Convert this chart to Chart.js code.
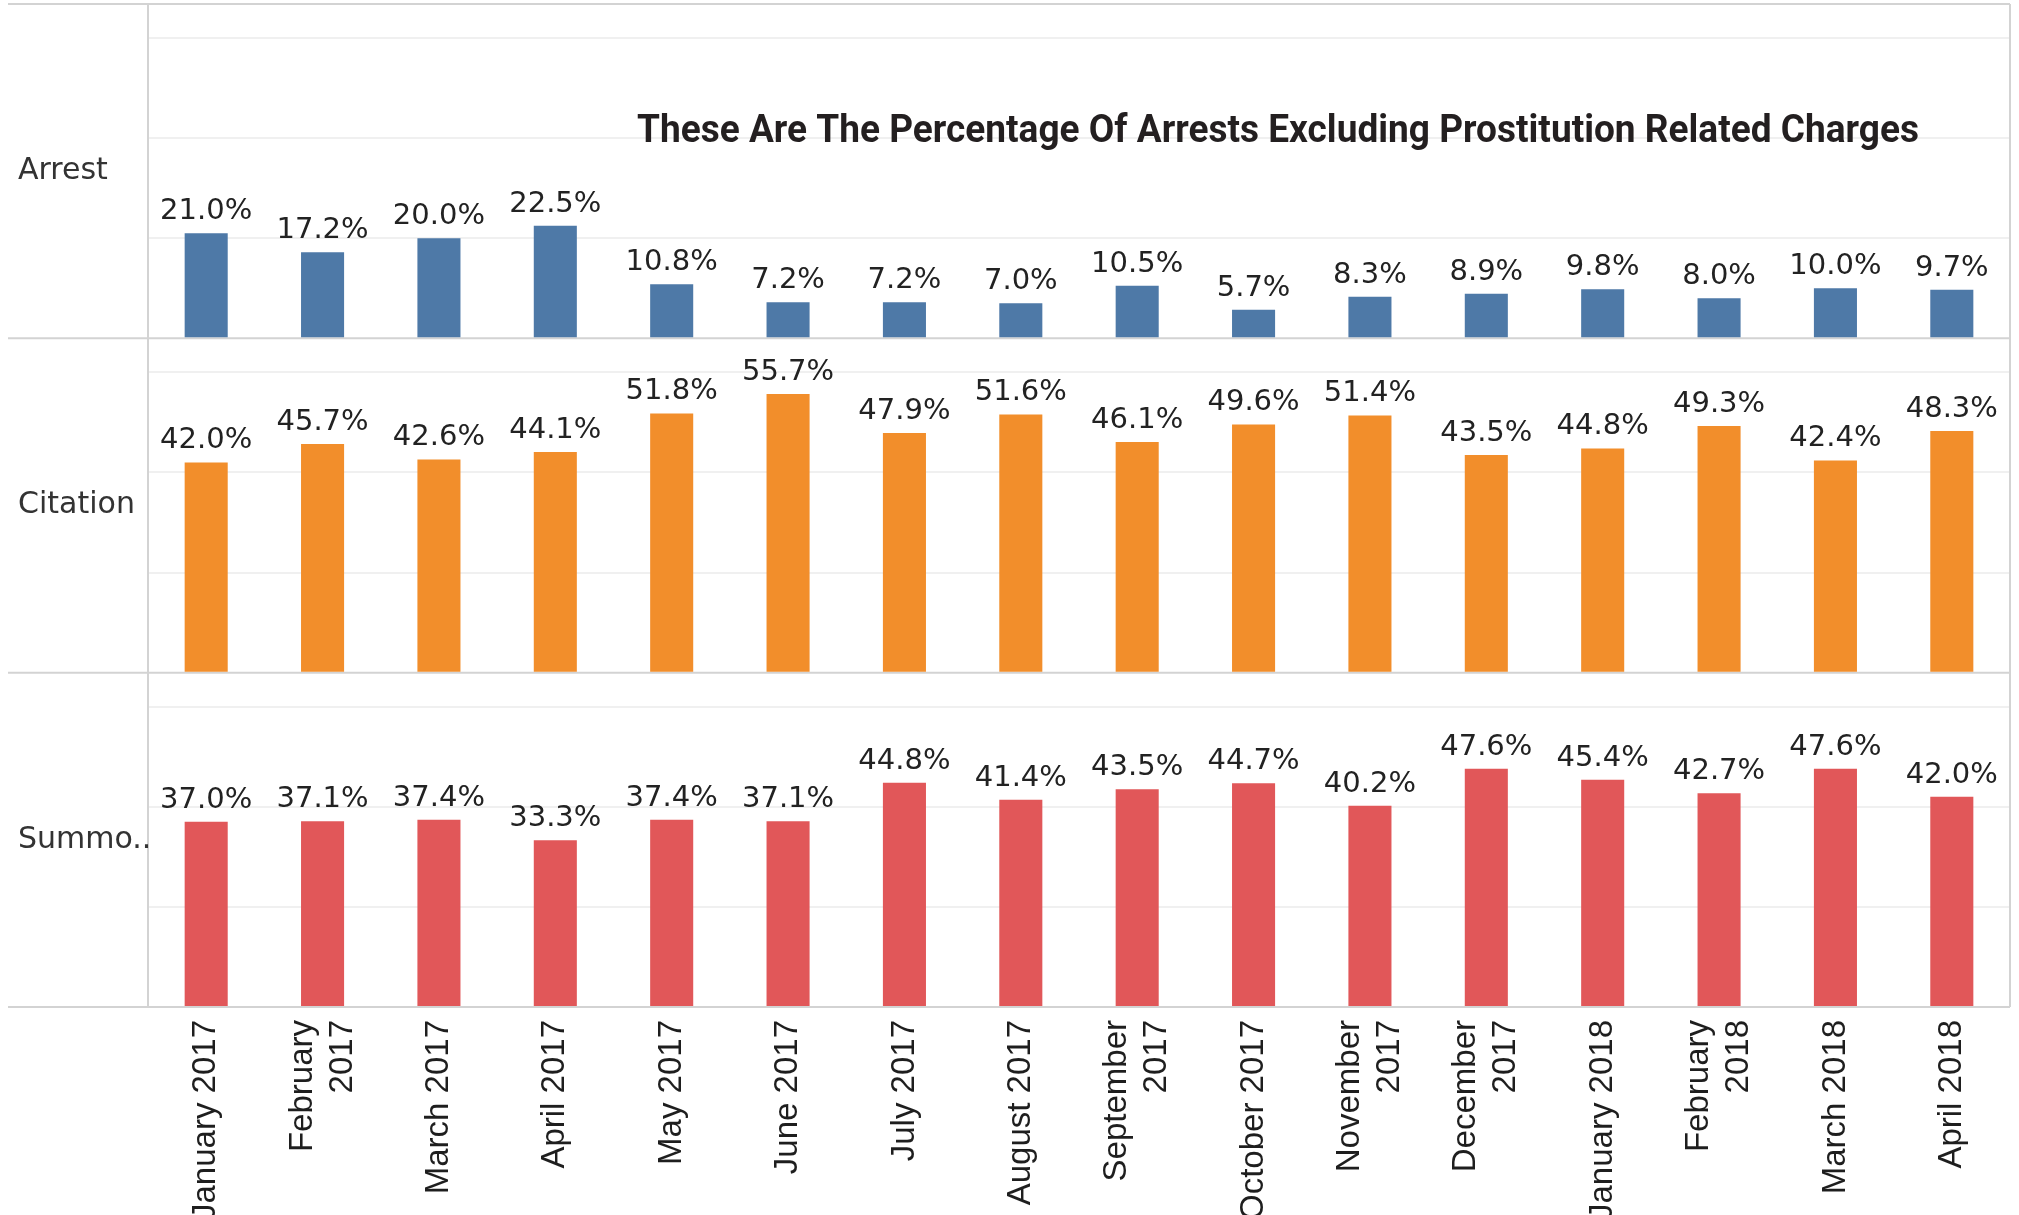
<!DOCTYPE html>
<html lang="en">
<head>
    <meta charset="UTF-8">
    <title>Arrests excluding prostitution related charges</title>
    <script src="https://cdn.jsdelivr.net/npm/chart.js"></script>
    <style>
        html, body { margin: 0; padding: 0; background: #fff; }
        .wrap { position: relative; width: 2019px; height: 1215px; }
    </style>
</head>
<body>
    <div class="wrap">
        <canvas id="myChart"></canvas>
    </div>
<script>
    const months = ['January 2017', ['February', '2017'], 'March 2017', 'April 2017', 'May 2017', 'June 2017',
        'July 2017', 'August 2017', ['September', '2017'], 'October 2017', ['November', '2017'],
        ['December', '2017'], 'January 2018', ['February', '2018'], 'March 2018', 'April 2018'];

    const arrest = [21.0, 17.2, 20.0, 22.5, 10.8, 7.2, 7.2, 7.0, 10.5, 5.7, 8.3, 8.9, 9.8, 8.0, 10.0, 9.7];
    const citation = [42.0, 45.7, 42.6, 44.1, 51.8, 55.7, 47.9, 51.6, 46.1, 49.6, 51.4, 43.5, 44.8, 49.3, 42.4, 48.3];
    const summons = [37.0, 37.1, 37.4, 33.3, 37.4, 37.1, 44.8, 41.4, 43.5, 44.7, 40.2, 47.6, 45.4, 42.7, 47.6, 42.0];

    const rowNames = ['Arrest', 'Citation', 'Summo..'];
    const titleText = 'These Are The Percentage Of Arrests Excluding Prostitution Related Charges';
    const axisMax = 66.8;

    const DIVIDER = '#d3d3d3';

    function panelScale(order) {
        return {
            type: 'linear',
            position: 'left',
            stack: 'rows',
            stackWeight: 1,
            weight: order,
            min: 0,
            max: axisMax,
            ticks: { display: false, stepSize: 20 },
            grid: {
                drawTicks: false,
                lineWidth: 2,
                color: (ctx) => (ctx.tick.value > 0 && ctx.tick.value < 61) ? '#f0f0f0' : 'transparent'
            },
            border: { display: false },
            afterFit: (scale) => { scale.width = 0; }
        };
    }

    function barSet(label, data, axis, color) {
        return {
            label: label,
            data: data,
            yAxisID: axis,
            backgroundColor: color,
            grouped: false,
            barPercentage: 0.37,
            categoryPercentage: 1
        };
    }

    const panels = {
        id: 'panels',
        beforeDatasetsDraw(chart) {
            const ctx = chart.ctx;
            const area = chart.chartArea;
            const ys = [chart.scales.yArrest, chart.scales.yCitation, chart.scales.ySummons];
            ctx.save();
            ctx.strokeStyle = DIVIDER;
            ctx.lineWidth = 2;
            const lines = [ys[0].top, ys[0].bottom, ys[1].bottom, ys[2].bottom];
            lines.forEach(y => {
                ctx.beginPath();
                ctx.moveTo(8, y);
                ctx.lineTo(area.right, y);
                ctx.stroke();
            });
            [area.left, area.right].forEach(x => {
                ctx.beginPath();
                ctx.moveTo(x, ys[0].top);
                ctx.lineTo(x, ys[2].bottom);
                ctx.stroke();
            });
            ctx.fillStyle = '#333';
            ctx.font = '30px "DejaVu Sans"';
            ctx.textAlign = 'left';
            ctx.textBaseline = 'middle';
            ys.forEach((s, i) => ctx.fillText(rowNames[i], 18, (s.top + s.bottom) / 2));
            ctx.restore();
        },
        afterDatasetsDraw(chart) {
            const ctx = chart.ctx;
            ctx.save();
            ctx.fillStyle = '#222';
            ctx.font = '29px "DejaVu Sans"';
            ctx.textAlign = 'center';
            ctx.textBaseline = 'alphabetic';
            chart.data.datasets.forEach((ds, i) => {
                chart.getDatasetMeta(i).data.forEach((bar, j) => {
                    ctx.fillText(ds.data[j].toFixed(1) + '%', bar.x, bar.y - 14);
                });
            });

            // month labels, rotated, multi-line ones centred on the bar
            const xs = chart.scales.x;
            ctx.font = '33px "Liberation Sans"';
            ctx.fillStyle = '#1e1e1e';
            ctx.textAlign = 'right';
            ctx.textBaseline = 'middle';
            months.forEach((m, i) => {
                const parts = Array.isArray(m) ? m : [m];
                ctx.save();
                ctx.translate(xs.getPixelForTick(i), xs.top + 13);
                ctx.rotate(-Math.PI / 2);
                parts.forEach((t, k) => ctx.fillText(t, 0, (k - (parts.length - 1) / 2) * 40));
                ctx.restore();
            });

            ctx.font = 'bold 38px Roboto';
            ctx.textAlign = 'center';
            ctx.textBaseline = 'alphabetic';
            const w = ctx.measureText(titleText).width;
            ctx.translate(1278, 142);
            ctx.scale(1282 / w, 1);
            ctx.fillStyle = '#231f20';
            ctx.fillText(titleText, 0, 0);
            ctx.restore();
        }
    };

    const myChart = new Chart(document.getElementById('myChart'), {
        type: 'bar',
        data: {
            labels: months,
            datasets: [
                barSet('Arrest', arrest, 'yArrest', '#4e79a7'),
                barSet('Citation', citation, 'yCitation', '#f28e2b'),
                barSet('Summons', summons, 'ySummons', '#e15759')
            ]
        },
        options: {
            responsive: true,
            maintainAspectRatio: false,
            animation: false,
            layout: { padding: { left: 148, right: 9, top: 4, bottom: 0 } },
            plugins: {
                legend: { display: false },
                tooltip: { enabled: false }
            },
            scales: {
                x: {
                    grid: { display: false, drawTicks: false },
                    border: { display: false },
                    ticks: { display: false },
                    afterFit: (scale) => { scale.height = 208; }
                },
                yArrest: panelScale(3),
                yCitation: panelScale(2),
                ySummons: panelScale(1)
            }
        },
        plugins: [panels]
    });
</script>
</body>
</html>
